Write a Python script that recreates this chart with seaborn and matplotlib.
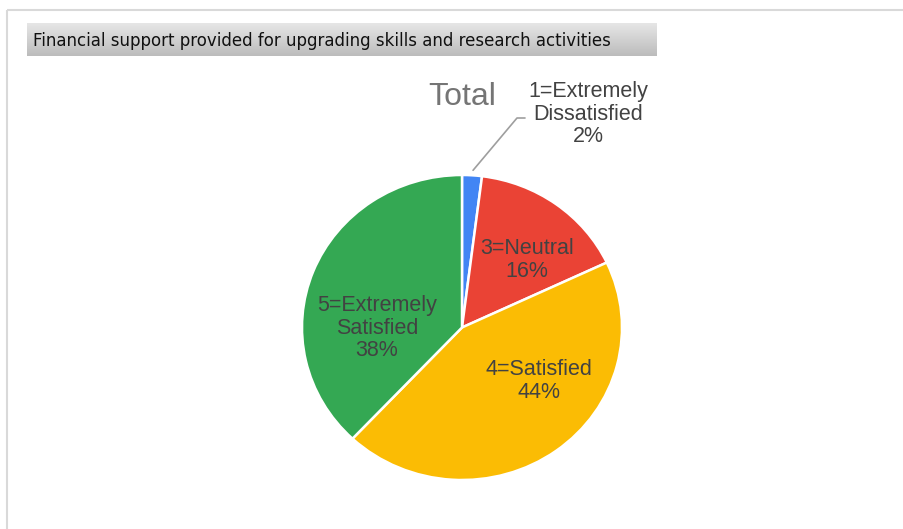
import numpy as np
import seaborn as sns
from matplotlib import pyplot as plt

# survey answers, share of respondents
categories = ["1=Extremely\nDissatisfied", "2=Dissatisfied", "3=Neutral",
              "4=Satisfied", "5=Extremely\nSatisfied"]
shares = [2, 0, 16, 44, 38]
colors = ["#4285F4", "#FF6D01", "#EA4335", "#FBBC04", "#34A853"]
chart_title = "Financial support provided for upgrading skills and research activities"
pie_title = "Total"

W, H = 904, 529
sns.set_theme(style="white")
plt.rcParams["font.family"] = ["Liberation Sans", "DejaVu Sans"]

fig = plt.figure(figsize=(W / 100, H / 100), dpi=100)

# pie in its own axes (slightly wider than tall, like the reference)
pl, pr, pt, pb = 302, 622, 175, 480
pax = fig.add_axes([pl / W, (H - pb) / H, (pr - pl) / W, (pb - pt) / H])
keep = [i for i, v in enumerate(shares) if v > 0]
wedges, _ = pax.pie([shares[i] for i in keep], colors=[colors[i] for i in keep],
                    startangle=90, counterclock=False, radius=1,
                    wedgeprops=dict(edgecolor="white", linewidth=1.8))
pax.set_aspect("auto")
pax.set_xlim(-1, 1)
pax.set_ylim(-1, 1)
pax.axis("off")

# overlay axes in pixel units for frame, title box and labels
ax = fig.add_axes([0, 0, 1, 1])
ax.set_zorder(3)
ax.patch.set_visible(False)
ax.set_xlim(0, W)
ax.set_ylim(0, H)
ax.axis("off")

# outer frame (top and left edge only are visible)
ax.plot([7, W], [H - 10, H - 10], color="#d9d9d9", lw=1.5, solid_capstyle="butt")
ax.plot([7, 7], [H - 10, 0], color="#d9d9d9", lw=1.5, solid_capstyle="butt")

# grey gradient title box
grad = np.linspace(0, 1, 64).reshape(-1, 1)
ax.imshow(grad, cmap=sns.blend_palette(["#e6e6e6", "#bcbcbc"], as_cmap=True),
          extent=[27, 657, H - 56, H - 23], aspect="auto", zorder=1)
ax.text(33, H - 41, chart_title, fontsize=12, family="DejaVu Sans",
        color="#111111", va="center", ha="left", zorder=2)

ax.text(462, H - 97, pie_title, fontsize=23, color="#757575", ha="center", va="center")

lab_kw = dict(fontsize=15.5, color="#424242", ha="center", va="center", linespacing=1.1)
labels = {0: (588, 114), 2: (527, 260), 3: (539, 381), 4: (377, 328)}
for i, (px, py) in labels.items():
    ax.text(px, H - py, f"{categories[i]}\n{shares[i]}%", **lab_kw)

# leader line for the small slice, from the wedge edge
w0 = wedges[0]
mid = np.deg2rad((w0.theta1 + w0.theta2) / 2)
cx, cy = (pl + pr) / 2, H - (pt + pb) / 2
x0 = cx + (pr - pl) / 2 * np.cos(mid)
y0 = cy + (pb - pt) / 2 * np.sin(mid)
ax.plot([x0 + 1, 517, 525], [y0 + 5, H - 118, H - 118], color="#9e9e9e", lw=1.2)

fig.savefig("out.png", dpi=100)
